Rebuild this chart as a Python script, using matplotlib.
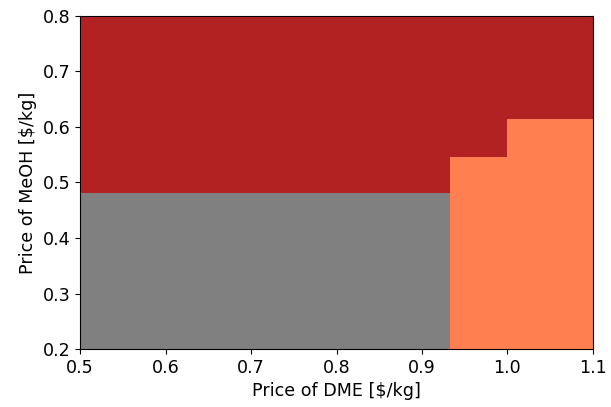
import matplotlib
matplotlib.use("Agg")
import matplotlib.pyplot as plt

# region boundaries
dme_lo, dme_hi = 0.5, 1.1
meoh_lo, meoh_hi = 0.2, 0.8
gray_dme = [0.5, 0.933]
gray_top = 0.481
orange_dme = [0.933, 1.0, 1.1]
orange_top = [0.5465, 0.614, 0.614]

fig = plt.figure(figsize=(6.11, 4.07), dpi=100)
ax = fig.add_axes([0.131, 0.1425, 0.8395, 0.8182])

ax.fill_between([dme_lo, dme_hi], meoh_lo, meoh_hi, color="firebrick", lw=0)
ax.fill_between(gray_dme, meoh_lo, gray_top, color="gray", lw=0)
ax.fill_between(orange_dme, meoh_lo, orange_top, step="post", color="coral", lw=0)

ax.set_xlim(dme_lo, dme_hi)
ax.set_ylim(meoh_lo, meoh_hi)
ax.set_xlabel("Price of DME [$/kg]", fontsize=12.6)
ax.set_ylabel("Price of MeOH [$/kg]", fontsize=12.6)
ax.tick_params(labelsize=12.6)
fig.savefig("out.png", dpi=100)
